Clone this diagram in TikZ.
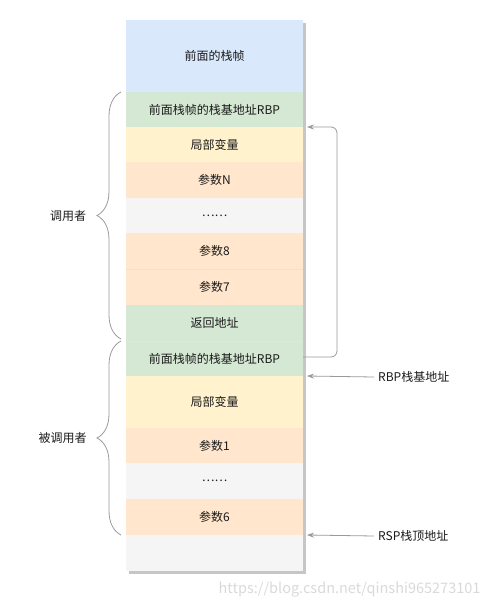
\documentclass[tikz,border=0pt]{standalone}
\usepackage{fontspec}
\setmainfont{Noto Sans CJK SC}
\usepackage{xcolor}
\usetikzlibrary{positioning, arrows.meta, calc, decorations.pathreplacing}
\definecolor{cblue}{HTML}{DAE8FC}
\definecolor{cgreen}{HTML}{D5E8D4}
\definecolor{cyellow}{HTML}{FFF2CC}
\definecolor{corange}{HTML}{FFE6CC}
\definecolor{cgray}{HTML}{F5F5F5}
\definecolor{cline}{HTML}{9A9A9A}
\definecolor{ctext}{HTML}{1A1A1A}

\begin{document}
\begin{tikzpicture}[x=1pt, y=-1pt,
  every node/.style={font=\fontsize{12}{14}\selectfont, text=ctext},
  cell/.style={minimum width=177pt, inner sep=0pt, outer sep=0pt, draw=none},
  link/.style={draw=cline, line width=0.8pt, -{Stealth[length=7pt, width=5pt]}},
  bracelink/.style={draw=cline, line width=0.8pt, decorate, decoration={brace, amplitude=24pt}}]
\useasboundingbox (0,0) rectangle (490,608);
% Shadow of the stack
\fill[gray!45] (129,23) rectangle (306,574);
% Stack cells: name / top / bottom / colour / text
\foreach \nm/\ya/\yb/\col/\txt in {
  prev/20/92/cblue/前面的栈帧,
  rbpA/92/127/cgreen/前面栈帧的栈基地址RBP,
  localA/127/162/cyellow/局部变量,
  argN/162/198/corange/参数N,
  dotsA/198/233/cgray/……,
  argE/233/269/corange/参数8,
  argS/269/305/corange/参数7,
  ret/305/341/cgreen/返回地址,
  rbpB/341/376/cgreen/前面栈帧的栈基地址RBP,
  localB/376/428/cyellow/局部变量,
  argA/428/463/corange/参数1,
  dotsB/463/499/cgray/……,
  argF/499/535/corange/参数6,
  top/535/571/cgray/} {
  \node[cell, fill=\col, minimum height={\yb-\ya}] (\nm) at (214.5,{(\ya+\yb)/2}) {\txt};
}
% Thin separators
\draw[gray!22, line width=0.6pt] (argE.south west) -- (argE.south east);
\draw[gray!22, line width=0.6pt] (ret.south west) -- (ret.south east);
% Braces
\draw[bracelink] ([xshift=-5pt, yshift=2pt]ret.south west) -- ([xshift=-5pt]rbpA.north west);
\draw[bracelink] ([xshift=-5pt]argF.south west) -- ([xshift=-5pt]rbpB.north west);
\node (caller) at (68,216) {调用者};
\node (callee) at (62.5,438) {被调用者};
% Saved base pointer loop
\coordinate (ptrA) at ([xshift=4pt]rbpA.south east);
\coordinate (bend) at (337,127);
\draw[link, rounded corners=6pt] ([yshift=1.5pt]rbpB.east) -| (bend) -- (ptrA);
% Register pointers
\coordinate (ptrB) at ([xshift=4pt]rbpB.south east);
\coordinate (ptrC) at ([xshift=4pt]argF.south east);
\node[anchor=west, inner sep=4pt] (rbpLbl) at (374,377) {RBP栈基地址};
\node[anchor=west, inner sep=4pt] (rspLbl) at (374,536) {RSP栈顶地址};
\draw[link] (rbpLbl.west) -- (ptrB);
\draw[link] (rspLbl.west) -- (ptrC);
% Watermark
\node[anchor=east, text=gray!30, font=\fontsize{14.5}{17}\selectfont] (mark) at (484,590) {https://blog.csdn.net/qinshi965273101};
\end{tikzpicture}
\end{document}
